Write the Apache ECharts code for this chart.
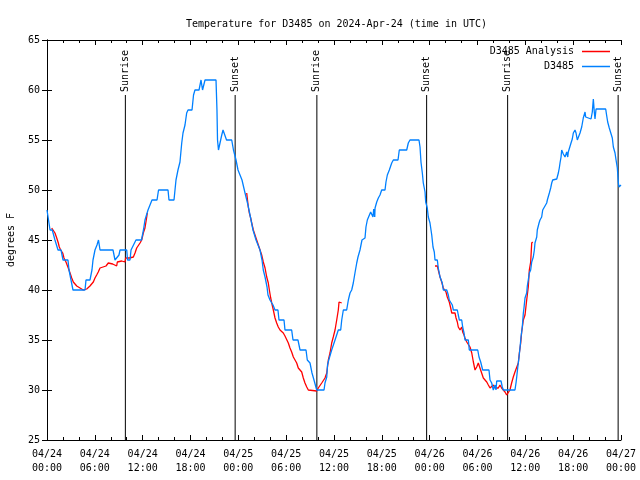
<!DOCTYPE html>
<html>
<head>
<meta charset="utf-8">
<script src="https://cdn.jsdelivr.net/npm/echarts@6/dist/echarts.min.js"></script>
<style>html,body{margin:0;padding:0;background:#fff}#c{width:640px;height:480px}</style>
</head>
<body>
<div id="c"></div>
<script>
// Hours since 2024-04-24 00:00 UTC
var tickLabels = ['04/24\n00:00','04/24\n06:00','04/24\n12:00','04/24\n18:00','04/25\n00:00','04/25\n06:00','04/25\n12:00','04/25\n18:00','04/26\n00:00','04/26\n06:00','04/26\n12:00','04/26\n18:00','04/27\n00:00'];

var sunHours = [9.83, 23.60, 33.85, 47.62, 57.78, 71.64];
var sunLabels = ['Sunrise','Sunset','Sunrise','Sunset','Sunrise','Sunset'];

// D3485 observations
var obsHours = [0,0.19,0.38,0.66,1.00,1.38,1.76,2.01,2.63,2.76,3.01,3.26,4.77,4.89,5.39,5.64,5.77,6.02,6.27,6.46,6.65,8.28,8.53,8.78,9.03,9.16,10.00,10.10,10.41,10.54,10.79,11.16,11.85,12.10,12.29,12.67,12.92,13.17,13.80,13.99,15.18,15.30,15.93,16.18,16.43,16.68,16.90,17.06,17.31,17.52,17.69,18.19,18.38,18.56,19.07,19.32,19.51,19.69,19.82,21.20,21.32,21.39,21.51,21.70,21.92,22.08,22.33,22.52,23.17,23.39,23.71,23.96,24.21,24.46,24.84,25.21,25.59,25.84,26.22,26.47,26.72,26.97,27.13,27.35,27.60,27.72,27.97,28.19,28.35,28.60,28.97,29.10,29.73,29.85,30.69,30.86,31.48,31.74,32.49,32.65,32.99,33.24,33.49,33.83,34.75,34.87,35.09,35.19,35.34,35.50,35.71,35.91,36.13,36.38,36.54,36.84,36.97,37.17,37.59,37.80,38.01,38.22,38.42,38.63,38.85,39.01,39.26,39.51,39.89,40.01,40.18,40.43,40.60,40.77,40.89,40.98,41.11,41.15,41.36,41.56,41.77,41.98,42.40,42.52,42.69,42.94,43.11,43.24,43.44,44.03,44.19,45.12,45.32,45.53,46.66,46.79,46.91,47.08,47.20,47.42,47.50,47.70,47.83,48.04,48.26,48.42,48.58,48.67,48.96,49.08,49.30,49.58,49.71,50.14,50.34,50.46,50.68,50.84,50.97,51.47,51.59,51.72,52.02,52.14,52.31,52.43,52.85,52.97,54.03,54.19,54.40,54.65,55.44,55.57,55.78,55.98,56.20,56.32,56.41,56.95,57.11,57.24,58.70,58.83,58.92,59.04,59.21,59.33,59.46,59.62,59.75,59.83,59.96,60.17,60.25,60.37,60.50,60.67,60.80,61.00,61.13,61.21,61.43,61.50,61.72,61.84,62.05,62.18,62.34,62.68,62.76,62.88,63.01,63.18,63.31,63.43,63.94,64.14,64.26,64.35,64.48,64.56,64.76,64.98,65.10,65.19,65.32,65.39,65.52,65.73,65.89,66.02,66.23,66.36,66.52,66.73,66.86,67.07,67.27,67.49,67.57,67.70,68.24,68.40,68.53,68.65,68.74,68.87,70.08,70.21,70.33,70.53,70.75,70.91,71.04,71.25,71.38,71.54,71.67,71.75,72.00];
var obsTemps = [48,47,46,46,45,44,44,43,43,42,41,40,40,41,41,42,43,44,44.5,45,44,44,43,43,43.5,44,44,43,43,44,44,45,45,46,47,48,48.5,49,49,50,50,49,49,51,52,52.8,54.7,55.7,56.5,57.7,58,58,59.5,60,60,61,60,60,61,61,58,55,54,54,55.5,56,56,55,55,54,53,52,51.5,51,49.7,48.5,47,46,45,44.5,44,43,42,41.3,40.3,39.5,39,39,38.5,38,38,37,37,36,36,35,35,34,34,33,32.7,31.7,31,30,30,30.7,31.3,32.5,33,33,34,34.2,35,35.2,36,36,37,38,38,39,39.7,40,40.7,41.7,42.7,43.3,44,45,45.2,46.3,47,47.2,47.8,48,47.3,48.1,47.3,48.2,48.8,49.2,49.5,50,50,50.8,51.5,52,52,52.7,53,53,54,54,54.7,55,55,54.3,52.8,51.7,50.7,49.8,48.8,48.2,47.3,46.7,45.5,44.3,43.8,43,43,42.2,41.3,40.7,40,40,39.5,39,39,38.5,38,38,37.5,37,37,36.3,35.7,35,35,34,34,33.3,32.8,32,32,31,30.7,30,30.5,30,30.9,30.9,30.3,30,30,30.7,31.3,32.2,33.3,34.2,35.3,36.3,37.7,38.2,39.2,39.7,40.4,41,41.7,42,42.8,43.3,44,44.7,45.3,46,46.7,47,47.3,48,48.2,48.7,49,49.2,49.7,50.2,50.7,51,51.1,51.7,52.2,52.7,53.3,54,53.6,53.3,53.3,53.8,53.3,53.8,53.6,54.7,55.1,55.7,56,55.7,55,55,55.7,56.3,57.2,57.8,57.3,57.1,57.1,57.8,59.1,57.8,57.1,58.1,58.1,57.4,56.8,56.2,56,55.2,54.3,53.7,53,52.2,50.7,50.3,50.5];

// D3485 Analysis (null = gap)
var anaHours = [0.59,0.79,1.00,1.22,1.42,1.54,1.72,1.97,2.13,2.38,2.67,2.89,3.10,3.30,3.51,3.73,3.93,4.14,4.35,4.55,4.77,4.98,5.18,5.39,5.61,5.81,6.02,6.23,6.43,6.65,6.86,7.40,7.69,7.81,8.24,8.74,8.82,9.37,9.78,9.87,10.32,10.50,10.83,11.04,11.25,11.45,11.67,11.88,12.08,12.29,12.51,12.58,
  18.0,
  25.05,25.25,25.38,25.55,25.68,25.88,26.09,26.30,26.51,26.72,26.93,27.13,27.35,27.56,27.76,27.89,28.06,28.19,28.39,28.60,28.81,29.01,29.23,29.64,29.85,30.07,30.27,30.48,30.69,30.90,31.11,31.32,31.52,31.74,31.95,32.15,32.36,32.58,32.78,33.83,34.03,34.24,34.46,34.66,34.87,35.09,35.29,35.50,35.71,35.91,36.13,36.34,36.54,36.63,36.84,36.97,
  42.0,
  48.67,48.96,49.08,49.30,49.51,49.71,50.05,50.21,50.46,50.64,50.77,51.18,51.31,51.47,51.59,51.81,52.02,52.14,52.31,52.43,52.65,52.85,53.06,53.28,53.48,53.69,53.90,54.10,54.31,54.52,54.73,54.94,55.16,55.36,55.57,55.78,55.98,56.20,56.41,56.61,56.82,57.03,57.24,57.45,57.66,57.86,58.07,58.28,58.49,58.70,58.92,59.12,59.25,59.42,59.54,59.75,59.96,60.17,60.37,60.50,60.67,60.80,60.92];
var anaTemps = [46.2,46,45.7,45.2,44.7,44.3,44,43.7,43.2,42.8,42.2,41.7,41.2,40.8,40.7,40.4,40.3,40.2,40.1,40,39.9,40.1,40.3,40.4,40.6,40.8,41.2,41.5,41.8,42.2,42.4,42.4,42.7,42.8,42.6,42.4,42.8,42.9,42.8,43.2,43.2,43,43.3,43.7,44.2,44.3,44.7,45,45.7,46.2,47.3,47.7,
  null,
  49.7,48.3,47.7,47.2,46.7,46,45.5,45,44.5,44,43.5,42.8,42.2,41.3,40.7,40,39.2,38.7,38,37.2,36.7,36.3,36,35.7,35.4,35.2,34.7,34.2,33.8,33.3,33,32.7,32.2,32.1,31.8,31.2,30.7,30.3,30,29.9,30.2,30.3,30.7,30.8,31.2,31.7,33,33.7,34.7,35.3,36,37,38,38.8,38.8,38.7,
  null,
  42.4,42.4,42,41.3,40.8,40.2,39.8,39.3,38.8,38.2,37.7,37.7,37.2,36.8,36.3,36,36.3,35.8,35.5,35.2,34.8,34.7,34.3,33.7,32.8,32,32.3,32.7,32.2,31.7,31.2,31,30.8,30.5,30.2,30,30.5,30.2,30,30.2,30.5,30.2,30,29.8,29.5,29.4,30,30.7,31.3,31.8,32,32.7,33.7,34.7,35.8,37,37.5,39,40.3,42,42.8,44.7,44.8];

var FONT = '"DejaVu Sans Mono", "Liberation Mono", monospace';

function pairs(h, t) {
  return h.map(function (x, i) { return [x, t[i] === null ? '-' : t[i]]; });
}

var chart = echarts.init(document.getElementById('c'), null, {renderer: 'canvas'});
var axisCommon = {
  axisLine: {show: true, lineStyle: {color: '#000', width: 1}},
  splitLine: {show: false}
};
chart.setOption({
  animation: false,
  backgroundColor: '#fff',
  title: {
    text: 'Temperature for D3485 on 2024-Apr-24 (time in UTC)',
    left: 181, top: 14,
    textStyle: {fontFamily: FONT, fontSize: 10, fontWeight: 'normal', color: '#000'}
  },
  legend: {
    data: ['D3485 Analysis', 'D3485'],
    orient: 'vertical', right: 25, top: 40, align: 'right',
    icon: 'rect', itemWidth: 28, itemHeight: 1.5, itemGap: 2,
    textStyle: {fontFamily: FONT, fontSize: 10, color: '#000', padding: [0, 3, 0, 0], lineHeight: 13}
  },
  grid: {left: 47, right: 19, top: 40, bottom: 40, containLabel: false, outerBoundsMode: 'none'},
  xAxis: [
    Object.assign({
      type: 'value', min: 0, max: 72, interval: 6,
      axisTick: {show: true, inside: true, length: 5, lineStyle: {color: '#000'}},
      minorTick: {show: true, splitNumber: 3, length: 3, lineStyle: {color: '#000'}},
      axisLabel: {
        fontFamily: FONT, fontSize: 10, color: '#000', margin: 7, lineHeight: 14,
        formatter: function (v) { return tickLabels[Math.round(v / 6)]; }
      }
    }, axisCommon),
    Object.assign({
      type: 'value', min: 0, max: 72, interval: 6, position: 'top',
      axisTick: {show: true, inside: true, length: 5, lineStyle: {color: '#000'}},
      minorTick: {show: true, splitNumber: 3, length: 3, lineStyle: {color: '#000'}},
      axisLabel: {show: false}
    }, axisCommon)
  ],
  yAxis: [
    Object.assign({
      type: 'value', min: 25, max: 65, interval: 5,
      name: 'degrees F', nameLocation: 'middle', nameGap: 31, nameRotate: 90,
      nameTextStyle: {fontFamily: FONT, fontSize: 10, color: '#000'},
      axisTick: {show: true, inside: true, length: 5, lineStyle: {color: '#000'}},
      axisLabel: {fontFamily: FONT, fontSize: 10, color: '#000', margin: 7}
    }, axisCommon),
    Object.assign({
      type: 'value', min: 25, max: 65, interval: 5, position: 'right',
      axisTick: {show: true, inside: true, length: 5, lineStyle: {color: '#000'}},
      axisLabel: {show: false}
    }, axisCommon)
  ],
  series: [
    {
      name: 'D3485 Analysis', type: 'line', symbol: 'none', connectNulls: false,
      data: pairs(anaHours, anaTemps),
      lineStyle: {color: '#ff0000', width: 1.3}, itemStyle: {color: '#ff0000'}, z: 3
    },
    {
      name: 'D3485', type: 'line', symbol: 'none',
      data: pairs(obsHours, obsTemps),
      lineStyle: {color: '#0080ff', width: 1.3}, itemStyle: {color: '#0080ff'}, z: 4
    },
    {
      name: 'sun', type: 'custom', silent: true, z: 2,
      data: sunHours.map(function (h) { return [h]; }),
      renderItem: function (params, api) {
        var h = api.value(0);
        var p0 = api.coord([h, 25]);
        var p1 = api.coord([h, 59.5]);
        return {
          type: 'group',
          children: [
            {type: 'line', shape: {x1: p0[0], y1: p0[1], x2: p1[0], y2: p1[1]}, style: {stroke: '#000', lineWidth: 1}},
            {type: 'text', x: p1[0], y: p1[1] - 3, rotation: Math.PI / 2,
             style: {text: sunLabels[params.dataIndex], textAlign: 'left', textVerticalAlign: 'middle', fill: '#000', font: '10px ' + FONT}}
          ]
        };
      }
    }
  ]
});
</script>
</body>
</html>
